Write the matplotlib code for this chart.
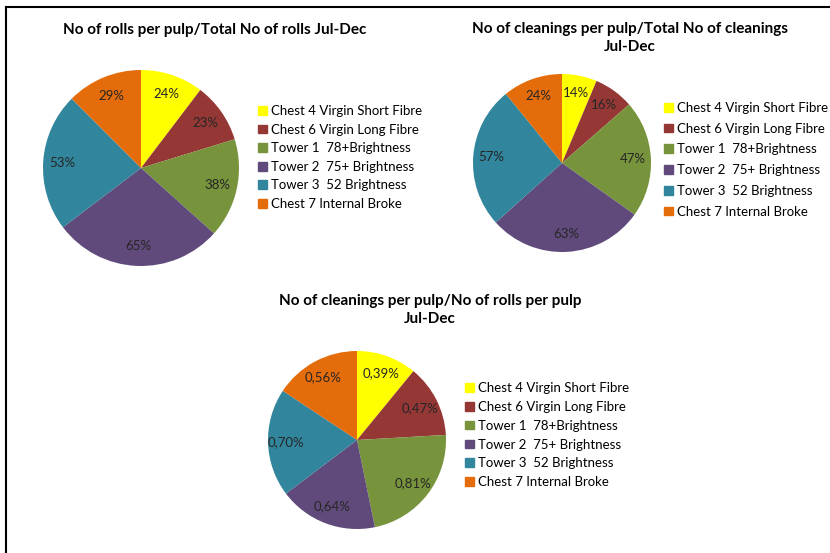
import matplotlib
matplotlib.use('Agg')
import matplotlib.pyplot as plt
import matplotlib.patches as mpatches
from matplotlib.lines import Line2D

plt.rcParams['font.family'] = ['Lato', 'DejaVu Sans']

# pulp sources and their colours
pulps = ['Chest 4 Virgin Short Fibre', 'Chest 6 Virgin Long Fibre',
         'Tower 1  78+Brightness', 'Tower 2  75+ Brightness',
         'Tower 3  52 Brightness', 'Chest 7 Internal Broke']
colors = ['#FFFF00', '#953735', '#77933C', '#604A7B', '#31859C', '#E46C0A']

# shares per pulp, Jul-Dec
rolls_share = [24, 23, 38, 65, 53, 29]
cleanings_share = [14, 16, 47, 63, 57, 24]
cleanings_per_roll = [0.39, 0.47, 0.81, 0.64, 0.70, 0.56]

W, H = 830, 553
fig = plt.figure(figsize=(W / 100, H / 100), dpi=100)
fig.patch.set_facecolor('white')

def pie_at(values, labels, cx, cy, r):
    # cx, cy, r in pixels from the top-left corner
    ax = fig.add_axes([(cx - r) / W, (H - cy - r) / H, 2 * r / W, 2 * r / H])
    wedges, _, autotexts = ax.pie(values, colors=colors, startangle=90,
                                  counterclock=False, autopct='%1.0f',
                                  pctdistance=0.8,
                                  wedgeprops=dict(linewidth=0),
                                  textprops=dict(fontsize=9.5, color='#262626'))
    for t, lab in zip(autotexts, labels):
        t.set_text(lab)
    ax.set_xlim(-1, 1)
    ax.set_ylim(-1, 1)
    ax.set_aspect('equal')
    return ax

def legend_at(x, y, spacing):
    handles = [mpatches.Patch(color=c, label=p) for c, p in zip(colors, pulps)]
    fig.legend(handles=handles, loc='upper left', bbox_to_anchor=(x / W, 1 - y / H),
               frameon=False, fontsize=9.5, handlelength=0.65, handleheight=0.65,
               handletextpad=0.35, labelspacing=spacing, borderpad=0, borderaxespad=0)

pie_at(rolls_share, ['%d%%' % v for v in rolls_share], 141, 168, 98)
legend_at(258, 105, 0.5)
fig.text(215 / W, 1 - 30 / H, 'No of rolls per pulp/Total No of rolls Jul-Dec',
         ha='center', va='center', fontsize=11, fontweight='bold')

pie_at(cleanings_share, ['%d%%' % v for v in cleanings_share], 562, 163, 89)
legend_at(664, 102, 0.66)
fig.text(630 / W, 1 - 38 / H, 'No of cleanings per pulp/Total No of cleanings\nJul-Dec',
         ha='center', va='center', fontsize=11, fontweight='bold', linespacing=1.45)

pie_at(cleanings_per_roll, [('%.2f%%' % v).replace('.', ',') for v in cleanings_per_roll],
       357, 440, 89)
legend_at(465, 382, 0.52)
fig.text(430 / W, 1 - 310 / H, 'No of cleanings per pulp/No of rolls per pulp\nJul-Dec',
         ha='center', va='center', fontsize=11, fontweight='bold', linespacing=1.45)

# frame along the top and left edges
fig.add_artist(Line2D([6 / W, 1], [1 - 7 / H, 1 - 7 / H], color='black', lw=1.5))
fig.add_artist(Line2D([6 / W, 6 / W], [0, 1 - 7 / H], color='black', lw=1.5))

fig.savefig('out.png', dpi=100)
